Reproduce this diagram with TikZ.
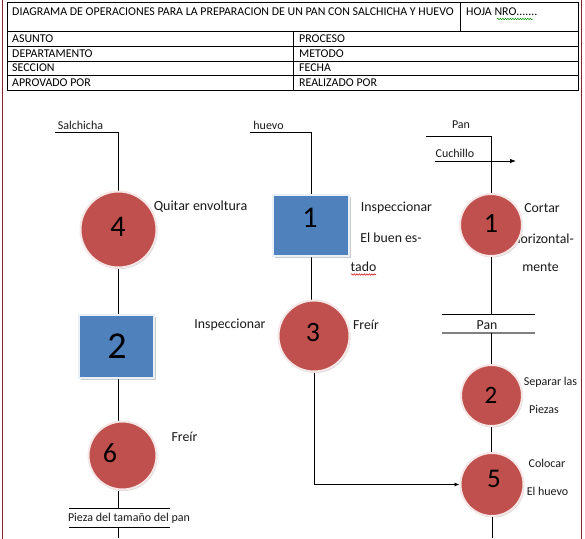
\documentclass[tikz,border=0pt]{standalone}
\usepackage{fontspec}
\setmainfont{Carlito}
\usetikzlibrary{shadows,backgrounds,arrows.meta,decorations.pathmorphing,calc}
\definecolor{ored}{HTML}{C0504D}
\definecolor{oblue}{HTML}{4F81BD}
\definecolor{bord}{HTML}{8B2232}
\definecolor{halo}{RGB}{246,230,230}
\begin{document}
\begin{tikzpicture}[x=1pt,y=-1pt,
  opc/.style={circle, fill=ored, draw=halo, line width=2pt, inner sep=0pt,
    drop shadow={shadow xshift=1pt, shadow yshift=-1.5pt, opacity=0.3}},
  insp/.style={rectangle, fill=oblue, draw=white!88!oblue, line width=1.5pt, inner sep=0pt,
    drop shadow={shadow xshift=1.5pt, shadow yshift=-2pt, opacity=0.4}},
  num/.style={inner sep=0pt, text=black},
  lbl/.style={inner sep=0pt, text=black!90, font=\fontsize{13.8}{14}\selectfont},
  sml/.style={inner sep=0pt, text=black!90, font=\fontsize{12}{13}\selectfont},
  hdr/.style={inner sep=0pt, anchor=west, font=\fontsize{11.9}{12}\selectfont},
  ln/.style={draw=black, line width=0.8pt},
  wavy/.style={decorate, decoration={snake, amplitude=0.7pt, segment length=2.5pt}, line width=0.5pt}
]
\useasboundingbox (0,0) rectangle (585,538);
% border
\draw[bord, line width=1.3pt] (2.5,-2) -- (2.5,540);
\draw[bord, line width=1.3pt] (581.5,-2) -- (581.5,540);
% header table
\draw[line width=0.8pt] (7,2) rectangle (578,90);
\draw[line width=0.8pt] (7,31.5) -- (578,31.5);
\draw[line width=0.8pt] (7,46) -- (578,46);
\draw[line width=0.8pt] (7,61) -- (578,61);
\draw[line width=0.8pt] (7,75.5) -- (578,75.5);
\draw[line width=0.8pt] (460,2) -- (460,31.5);
\draw[line width=0.8pt] (293,31.5) -- (293,90);
\node[hdr] (title) at (12,12) {DIAGRAMA DE OPERACIONES PARA LA PREPARACION DE UN PAN CON SALCHICHA Y HUEVO};
\node[hdr] (hoja) at (466,12) {HOJA NRO.......};
\draw[wavy, green!55!black] (497,19) -- (533,19);
\node[hdr] (asunto) at (12,39) {ASUNTO};
\node[hdr] (depto) at (12,53.5) {DEPARTAMENTO};
\node[hdr] (secc) at (12,68) {SECCION};
\node[hdr] (aprov) at (12,83) {APROVADO POR};
\node[hdr] (proc) at (299,39) {PROCESO};
\node[hdr] (metodo) at (299,53.5) {METODO};
\node[hdr] (fecha) at (299,68) {FECHA};
\node[hdr] (realiz) at (299,83) {REALIZADO POR};

% text that lies under circle 1
\node[lbl, anchor=east] (horiz) at (574,239) {horizontal-};

% shapes
\node[opc, minimum size=76pt] (c4) at (118.5,229.5) {};
\node[insp, minimum width=75pt, minimum height=63pt] (s2) at (116.5,346.5) {};
\node[opc, minimum size=68pt] (c6) at (122.5,455.5) {};
\node[insp, minimum width=76pt, minimum height=61pt] (s1) at (311,225.5) {};
\node[opc, minimum size=71pt] (c3) at (314,336) {};
\node[opc, minimum size=62pt] (c1) at (491,225) {};
\node[opc, minimum size=61pt] (p2) at (491.5,395.5) {};
\node[opc, minimum size=63pt] (c5) at (492,484.5) {};

% numbers
\node[num, font=\fontsize{30}{30}\selectfont] (n4) at (118,227) {4};
\node[num, font=\fontsize{38}{38}\selectfont] (n2s) at (117,346) {2};
\node[num, font=\fontsize{28}{28}\selectfont] (n6) at (110,453) {6};
\node[num, font=\fontsize{30}{30}\selectfont] (n1s) at (310,218) {1};
\node[num, font=\fontsize{28}{28}\selectfont] (n3) at (313,333) {3};
\node[num, font=\fontsize{28}{28}\selectfont] (n1c) at (491,223) {1};
\node[num, font=\fontsize{25}{25}\selectfont] (n2c) at (491,395) {2};
\node[num, font=\fontsize{27}{27}\selectfont] (n5) at (494,479) {5};

% labels
\node[sml] (salch) at (80.5,125) {Salchicha};
\node[sml] (huevo) at (268.5,125) {huevo};
\node[sml] (pan1) at (461,125) {Pan};
\node[sml] (cuch) at (455,153) {Cuchillo};
\node[lbl, font=\fontsize{14}{15}\selectfont] (quitar) at (200.5,207) {Quitar envoltura};
\node[lbl] (insp1) at (396.5,208) {Inspeccionar};
\node[lbl] (buen) at (391,238) {El buen es-};
\node[lbl] (tado) at (363.5,267) {tado};
\draw[wavy, red!80!black] (351,274.5) -- (376,274.5);
\node[lbl] (cortar) at (542,208) {Cortar};
\node[lbl] (mente) at (540.5,267) {mente};
\node[lbl] (insp2) at (230,325) {Inspeccionar};
\node[lbl] (freir3) at (366,325) {Freír};
\node[lbl] (freir6) at (184.5,437) {Freír};
\node[lbl] (pan2) at (487,325) {Pan};
\node[sml] (separar) at (550.5,382) {Separar las};
\node[sml] (piezas) at (544,409) {Piezas};
\node[sml] (colocar) at (547,463) {Colocar};
\node[sml] (elhuevo) at (547.5,491) {El huevo};
\node[sml] (pieza) at (129,518) {Pieza del tamaño del pan};

% coordinates
\coordinate (sa) at (55,132);
\coordinate (hu) at (250,132);
\coordinate (pa) at (426,136);
\coordinate (cu0) at (435,161);
\coordinate (cu1) at (516,161);
\coordinate (bot) at (0,538);

\begin{scope}[on background layer]
\fill[white] (0,0) rectangle (585,538);
% salchicha column
\draw[ln] (sa) -- (sa -| c4.north) -- (c4.north);
\draw[ln] (c4.south) -- (c4.south |- s2.north);
\draw[ln] (c4.south |- s2.south) -- (c4.south |- c6.north);
\draw[ln] (c4.south |- c6.south) -- (118.5,508);
\draw[ln] (118.5,527) -- (c4.south |- bot);
\draw[ln] (69,508) -- (170,508);
\draw[ln] (69,527) -- (170,527);
% huevo column
\draw[ln] (hu) -- (hu -| s1.north) -- (s1.north);
\draw[ln] (s1.south) -- (s1.south |- c3.north);
\draw[ln, -{Latex[length=5pt,width=4pt]}] (c3.south) -- (c3.south |- c5.west) -- (c5.west);
% pan column
\draw[ln] (pa) -- (pa -| c1.north) -- (c1.north);
\draw[ln, -{Latex[length=6pt,width=4.5pt]}] (cu0) -- (cu1);
\draw[ln] (c1.south) -- (c1.south |- 0,314);
\draw[ln] (442,314) -- (535,314);
\draw[gray, line width=2pt] (442,333) -- (535,333);
\draw[ln] (c1.south |- 0,333) -- (c1.south |- p2.north);
\draw[ln] (p2.south) -- (p2.south |- c5.north);
\draw[ln] (c5.south) -- (c5.south |- bot);
\end{scope}
\end{tikzpicture}
\end{document}
